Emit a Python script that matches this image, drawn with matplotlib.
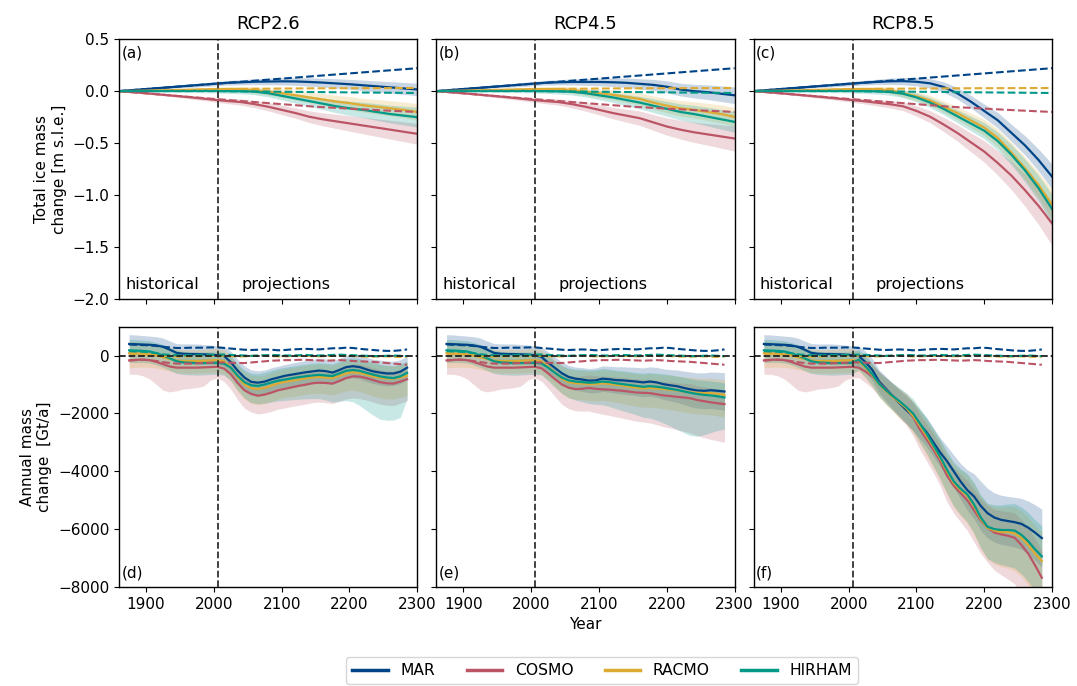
import numpy as np
import matplotlib
matplotlib.use("Agg")
import matplotlib.pyplot as plt
from matplotlib.lines import Line2D

# ---------------- general ----------------
models = ["MAR", "COSMO", "RACMO", "HIRHAM"]
colors = ["#004488", "#BB5566", "#DDAA33", "#009988"]
scenarios = ["RCP2.6", "RCP4.5", "RCP8.5"]
labels_top = ["(a)", "(b)", "(c)"]
labels_bot = ["(d)", "(e)", "(f)"]
split_year = 2006

# ---------------- top row: total ice mass change [m s.l.e.] ----------------
years_top_hist = [1860, 1880, 1900, 1920, 1940, 1960, 1980, 2000]
years_top_proj = [2020, 2040, 2060, 2080, 2100, 2120, 2140, 2160, 2180,
                  2200, 2220, 2240, 2260, 2280, 2300]

top_hist_mar = [0.0, 0.01, 0.02, 0.03, 0.04, 0.05, 0.06, 0.07]
top_hist_cosmo = [0.0, -0.01, -0.02, -0.032, -0.044, -0.056, -0.069, -0.083]
top_hist_racmo = [0.0, 0.002, 0.005, 0.007, 0.01, 0.012, 0.015, 0.018]
top_hist_hirham = [0.0, 0.0, 0.001, 0.001, 0.002, 0.002, 0.003, 0.003]
top_hist_sd = [0.0, 0.003, 0.006, 0.009, 0.012, 0.015, 0.018, 0.02]

top26_mar = [0.08, 0.085, 0.09, 0.092, 0.094, 0.093, 0.088, 0.082, 0.074, 0.066, 0.056, 0.046, 0.036, 0.026, 0.016]
top26_cosmo = [-0.095, -0.105, -0.125, -0.15, -0.18, -0.21, -0.245, -0.27, -0.29, -0.31, -0.33, -0.35, -0.37, -0.39, -0.41]
top26_racmo = [0.02, 0.02, 0.01, -0.005, -0.02, -0.04, -0.06, -0.08, -0.1, -0.115, -0.135, -0.15, -0.165, -0.18, -0.2]
top26_hirham = [0.0, -0.001, -0.005, -0.02, -0.045, -0.07, -0.095, -0.12, -0.145, -0.165, -0.18, -0.2, -0.22, -0.235, -0.25]

top45_mar = [0.08, 0.085, 0.088, 0.088, 0.088, 0.085, 0.08, 0.07, 0.06, 0.042, 0.015, 0.0, -0.01, -0.025, -0.04]
top45_cosmo = [-0.095, -0.105, -0.125, -0.15, -0.18, -0.21, -0.235, -0.26, -0.3, -0.34, -0.37, -0.395, -0.415, -0.435, -0.455]
top45_racmo = [0.02, 0.02, 0.01, -0.005, -0.02, -0.035, -0.055, -0.075, -0.11, -0.14, -0.165, -0.18, -0.2, -0.22, -0.247]
top45_hirham = [0.0, -0.002, -0.006, -0.02, -0.04, -0.06, -0.085, -0.11, -0.14, -0.17, -0.2, -0.22, -0.245, -0.27, -0.295]

top85_mar = [0.08, 0.088, 0.094, 0.096, 0.09, 0.075, 0.04, -0.02, -0.1, -0.19, -0.28, -0.4, -0.52, -0.66, -0.82]
top85_cosmo = [-0.095, -0.11, -0.125, -0.145, -0.19, -0.245, -0.32, -0.4, -0.49, -0.58, -0.69, -0.81, -0.95, -1.1, -1.27]
top85_racmo = [0.02, 0.018, 0.01, -0.02, -0.05, -0.09, -0.15, -0.21, -0.28, -0.35, -0.45, -0.59, -0.74, -0.9, -1.09]
top85_hirham = [0.0, -0.002, -0.008, -0.025, -0.06, -0.11, -0.17, -0.24, -0.31, -0.38, -0.48, -0.61, -0.76, -0.93, -1.13]

# half-widths of the shaded ranges
sd26_mar = [0.022, 0.025, 0.028, 0.031, 0.034, 0.037, 0.04, 0.042, 0.045, 0.047, 0.05, 0.052, 0.055, 0.057, 0.06]
sd26_cosmo = [0.025, 0.03, 0.035, 0.04, 0.045, 0.05, 0.056, 0.062, 0.068, 0.074, 0.08, 0.085, 0.09, 0.095, 0.1]
sd26_racmo = [0.022, 0.025, 0.03, 0.035, 0.04, 0.045, 0.05, 0.055, 0.06, 0.063, 0.066, 0.07, 0.073, 0.076, 0.08]
sd26_hirham = [0.022, 0.025, 0.03, 0.035, 0.04, 0.045, 0.05, 0.056, 0.062, 0.068, 0.074, 0.08, 0.085, 0.09, 0.095]
sd45_mar = [0.022, 0.025, 0.029, 0.033, 0.037, 0.041, 0.045, 0.049, 0.053, 0.057, 0.061, 0.065, 0.07, 0.075, 0.08]
sd45_cosmo = [0.025, 0.03, 0.036, 0.042, 0.048, 0.055, 0.062, 0.069, 0.076, 0.083, 0.09, 0.097, 0.104, 0.112, 0.12]
sd45_racmo = [0.022, 0.026, 0.031, 0.036, 0.041, 0.046, 0.052, 0.058, 0.064, 0.069, 0.074, 0.079, 0.083, 0.087, 0.09]
sd45_hirham = [0.022, 0.026, 0.031, 0.036, 0.042, 0.048, 0.054, 0.06, 0.066, 0.072, 0.078, 0.084, 0.09, 0.095, 0.1]
sd85_mar = [0.022, 0.025, 0.03, 0.035, 0.04, 0.045, 0.05, 0.055, 0.06, 0.066, 0.074, 0.082, 0.092, 0.105, 0.12]
sd85_cosmo = [0.025, 0.03, 0.036, 0.042, 0.05, 0.058, 0.068, 0.078, 0.09, 0.103, 0.118, 0.135, 0.155, 0.18, 0.21]
sd85_racmo = [0.022, 0.026, 0.031, 0.036, 0.042, 0.048, 0.055, 0.062, 0.07, 0.078, 0.087, 0.097, 0.108, 0.122, 0.14]
sd85_hirham = [0.022, 0.026, 0.031, 0.036, 0.042, 0.048, 0.055, 0.062, 0.07, 0.078, 0.087, 0.097, 0.108, 0.122, 0.14]

# control runs (dashed)
years_ctrl_top = [1860, 1900, 1950, 2000, 2050, 2100, 2150, 2200, 2250, 2300]
ctrl_top_mar = [0.0, 0.02, 0.045, 0.07, 0.095, 0.12, 0.145, 0.17, 0.195, 0.22]
ctrl_top_cosmo = [0.0, -0.022, -0.048, -0.075, -0.1, -0.125, -0.15, -0.168, -0.185, -0.2]
ctrl_top_racmo = [0.0, 0.005, 0.01, 0.017, 0.022, 0.025, 0.027, 0.028, 0.029, 0.03]
ctrl_top_hirham = [0.0, 0.0, 0.0, 0.0, -0.003, -0.006, -0.009, -0.012, -0.015, -0.018]

# ---------------- bottom row: annual mass change [Gt/a] ----------------
years_bot_hist = [1875, 1885, 1895, 1905, 1915, 1925, 1935, 1945, 1955, 1965, 1975, 1985, 1995, 2005]
years_bot_proj = [2015, 2025, 2035, 2045, 2055, 2065, 2075, 2085, 2095, 2105, 2115, 2125, 2135, 2145,
                  2155, 2165, 2175, 2185, 2195, 2205, 2215, 2225, 2235, 2245, 2255, 2265, 2275, 2285]

bot_hist_mar = [400, 390, 380, 370, 350, 300, 200, 90, 60, 50, 50, 40, 30, 10]
bot_hist_cosmo = [-170, -150, -140, -160, -220, -300, -380, -420, -420, -420, -420, -410, -400, -390]
bot_hist_racmo = [80, 70, 60, 40, 0, -60, -120, -180, -190, -190, -190, -180, -170, -160]
bot_hist_hirham = [180, 170, 160, 140, 80, 0, -100, -200, -240, -250, -260, -260, -260, -250]

bot_hist_mar_lo = [320, 320, 310, 300, 300, 300, 300, 320, 340, 350, 350, 340, 330, 320]
bot_hist_mar_hi = bot_hist_mar_lo
bot_hist_cosmo_lo = [480, 500, 560, 650, 780, 900, 880, 800, 740, 720, 690, 640, 450, 380]
bot_hist_cosmo_hi = [300, 300, 290, 290, 300, 300, 310, 310, 300, 300, 300, 300, 300, 300]
bot_hist_racmo_lo = [500, 480, 460, 450, 440, 430, 420, 420, 420, 420, 420, 420, 420, 420]
bot_hist_racmo_hi = [420, 410, 400, 400, 400, 400, 400, 400, 400, 400, 400, 400, 400, 400]
bot_hist_hirham_lo = [420, 410, 400, 400, 400, 410, 420, 420, 420, 420, 420, 410, 400, 400]
bot_hist_hirham_hi = [380, 380, 370, 370, 370, 380, 380, 380, 380, 380, 380, 380, 380, 380]

bot26_mar = [-20, -230, -520, -760, -910, -940, -900, -820, -760, -700, -660, -620, -580, -550,
             -520, -540, -590, -500, -400, -370, -400, -480, -550, -590, -620, -620, -560, -420]
bot26_cosmo = [-450, -650, -950, -1200, -1330, -1390, -1350, -1280, -1200, -1150, -1100, -1050, -1010, -960,
               -940, -950, -970, -880, -780, -720, -730, -780, -850, -920, -960, -970, -900, -820]
bot26_racmo = [-200, -420, -750, -1000, -1130, -1160, -1120, -1040, -960, -910, -870, -830, -790, -760,
               -740, -760, -780, -700, -620, -580, -600, -660, -720, -770, -800, -800, -760, -700]
bot26_hirham = [-280, -420, -700, -920, -1030, -1050, -1000, -930, -870, -830, -790, -750, -720, -690,
                -670, -690, -710, -620, -530, -500, -530, -600, -660, -720, -760, -780, -720, -600]

bot45_mar = [-50, -250, -430, -610, -740, -800, -830, -870, -860, -800, -820, -850, -860, -880,
             -900, -930, -900, -930, -990, -1030, -1060, -1120, -1170, -1210, -1220, -1200, -1220, -1245]
bot45_cosmo = [-440, -620, -820, -1000, -1110, -1160, -1150, -1120, -1150, -1170, -1180, -1200, -1220, -1250,
               -1280, -1290, -1300, -1340, -1380, -1400, -1430, -1450, -1480, -1540, -1580, -1620, -1650, -1680]
bot45_racmo = [-200, -380, -600, -800, -920, -960, -970, -990, -990, -960, -980, -1010, -1040, -1080,
               -1110, -1140, -1120, -1140, -1160, -1180, -1210, -1240, -1270, -1290, -1300, -1300, -1330, -1360]
bot45_hirham = [-270, -420, -600, -760, -860, -900, -920, -940, -930, -900, -920, -960, -990, -1020,
                -1050, -1080, -1060, -1080, -1110, -1150, -1190, -1240, -1290, -1330, -1360, -1380, -1410, -1450]

bot85_mar = [-20, -230, -500, -900, -1150, -1400, -1650, -1880, -2100, -2380, -2650, -3000, -3350, -3650,
             -4000, -4350, -4650, -4870, -5200, -5450, -5600, -5680, -5720, -5760, -5820, -5950, -6120, -6310]
bot85_cosmo = [-420, -560, -720, -950, -1180, -1400, -1620, -1800, -2120, -2550, -2900, -3250, -3650, -4150,
               -4500, -4750, -5000, -5350, -5700, -5950, -6120, -6180, -6230, -6300, -6550, -6850, -7250, -7680]
bot85_racmo = [-200, -420, -680, -1000, -1230, -1430, -1620, -1820, -2080, -2420, -2780, -3150, -3550, -4000,
               -4400, -4650, -4850, -5200, -5650, -5950, -6050, -6100, -6100, -6150, -6300, -6550, -6850, -7100]
bot85_hirham = [-150, -380, -650, -980, -1200, -1400, -1580, -1780, -2000, -2350, -2700, -3100, -3500, -3950,
                -4350, -4600, -4800, -5150, -5600, -5920, -6000, -6030, -6030, -6050, -6200, -6420, -6700, -6940]

# shaded-range offsets below (lo) and above (hi) the lines
bot26_mar_lo = [350, 370, 390, 400, 410, 410, 400, 400, 390, 390, 400, 400, 410, 410,
                420, 420, 410, 400, 400, 400, 410, 420, 420, 430, 430, 420, 410, 400]
bot26_mar_hi = bot26_mar_lo
bot26_cosmo_lo = [450, 520, 580, 620, 630, 630, 640, 650, 650, 660, 660, 670, 670, 670,
                  670, 680, 690, 700, 720, 740, 760, 760, 760, 760, 760, 760, 750, 740]
bot26_cosmo_hi = [350, 380, 400, 420, 430, 430, 430, 430, 430, 430, 430, 430, 430, 430,
                  430, 430, 430, 430, 430, 430, 430, 430, 430, 430, 430, 430, 430, 430]
bot26_racmo_lo = [450, 480, 500, 520, 530, 540, 540, 540, 540, 540, 550, 550, 550, 560,
                  560, 570, 580, 590, 600, 620, 640, 660, 680, 700, 700, 700, 690, 680]
bot26_racmo_hi = [400, 420, 430, 440, 450, 450, 450, 450, 450, 450, 450, 450, 450, 450,
                  450, 450, 450, 450, 450, 450, 450, 450, 450, 450, 450, 450, 450, 450]
bot26_hirham_lo = [400, 450, 500, 550, 600, 620, 650, 680, 700, 720, 740, 760, 780, 800,
                   820, 850, 900, 960, 1030, 1100, 1200, 1300, 1400, 1480, 1480, 1450, 1420, 900]
bot26_hirham_hi = [380, 400, 410, 420, 420, 420, 420, 420, 420, 420, 420, 420, 420, 420,
                   420, 420, 420, 420, 420, 420, 420, 420, 420, 420, 420, 420, 420, 420]

bot45_mar_lo = [350, 370, 380, 390, 400, 400, 410, 420, 430, 440, 450, 460, 470, 480,
                490, 500, 510, 520, 530, 540, 560, 580, 600, 610, 620, 630, 640, 650]
bot45_mar_hi = bot45_mar_lo
bot45_cosmo_lo = [450, 520, 600, 680, 730, 750, 770, 800, 830, 860, 890, 920, 950, 970,
                  990, 1010, 1030, 1050, 1080, 1110, 1140, 1170, 1200, 1230, 1260, 1280, 1300, 1320]
bot45_cosmo_hi = [350, 380, 400, 420, 430, 440, 450, 450, 450, 450, 460, 460, 460, 470,
                  470, 470, 480, 480, 480, 490, 490, 490, 500, 500, 500, 500, 500, 500]
bot45_racmo_lo = [450, 480, 500, 520, 540, 550, 560, 570, 580, 590, 600, 610, 620, 630,
                  640, 650, 660, 670, 680, 690, 700, 710, 720, 730, 740, 750, 760, 770]
bot45_racmo_hi = [400, 420, 430, 440, 450, 450, 450, 460, 460, 460, 470, 470, 470, 480,
                  480, 480, 490, 490, 490, 500, 500, 500, 510, 510, 510, 520, 520, 520]
bot45_hirham_lo = [400, 450, 500, 550, 600, 640, 680, 720, 760, 800, 840, 880, 920, 960,
                   1000, 1050, 1100, 1160, 1220, 1290, 1360, 1430, 1480, 1460, 1380, 1280, 1180, 1100]
bot45_hirham_hi = [380, 400, 410, 420, 430, 430, 440, 440, 440, 450, 450, 450, 460, 460,
                   460, 470, 470, 470, 480, 480, 480, 490, 490, 490, 500, 500, 500, 500]

bot85_mar_lo = [350, 370, 390, 400, 420, 440, 460, 480, 500, 500, 500, 500, 500, 520,
                560, 620, 700, 780, 850, 860, 850, 850, 850, 860, 880, 920, 960, 1000]
bot85_mar_hi = bot85_mar_lo
bot85_cosmo_lo = [350, 380, 420, 450, 480, 500, 550, 600, 650, 700, 750, 800, 850, 900,
                  950, 1000, 1050, 1100, 1150, 1200, 1300, 1400, 1500, 1600, 1700, 1800, 1900, 2000]
bot85_cosmo_hi = [350, 370, 390, 400, 420, 440, 460, 480, 500, 520, 540, 560, 580, 600,
                  620, 650, 680, 710, 740, 770, 800, 820, 840, 860, 880, 900, 920, 940]
bot85_racmo_lo = [350, 380, 410, 440, 470, 500, 530, 560, 600, 640, 680, 720, 760, 800,
                  850, 900, 950, 1000, 1050, 1100, 1150, 1200, 1250, 1300, 1350, 1400, 1450, 1500]
bot85_racmo_hi = [350, 370, 390, 410, 430, 450, 470, 490, 510, 530, 550, 570, 600, 630,
                  660, 690, 720, 750, 780, 810, 840, 870, 900, 920, 940, 960, 980, 1000]
bot85_hirham_lo = [350, 380, 410, 440, 470, 500, 530, 560, 600, 640, 680, 720, 760, 800,
                   850, 900, 950, 1000, 1050, 1100, 1150, 1200, 1250, 1300, 1350, 1400, 1450, 1500]
bot85_hirham_hi = [350, 370, 390, 410, 430, 450, 470, 490, 510, 530, 550, 570, 600, 630,
                   660, 690, 720, 750, 780, 810, 840, 870, 900, 930, 960, 990, 1020, 1050]

# control runs (dashed), full period 1875-2285
ctrl_bot_mar = [380, 370, 360, 350, 330, 300, 280, 260, 260, 270, 270, 270, 280, 280,
                260, 240, 220, 200, 190, 200, 210, 200, 180, 190, 210, 220, 230, 220,
                210, 230, 250, 250, 270, 260, 230, 210, 190, 170, 160, 160, 180, 210]
ctrl_bot_cosmo = [-170, -160, -150, -160, -190, -230, -260, -280, -280, -280, -270, -260, -250, -240,
                  -240, -250, -260, -260, -240, -220, -200, -180, -170, -160, -160, -150, -150, -160,
                  -170, -180, -170, -160, -170, -190, -200, -210, -220, -240, -260, -280, -300, -320]
ctrl_bot_racmo = [60, 50, 40, 30, 10, -10, -30, -40, -40, -30, -30, -20, -20, -10,
                  -10, -20, -30, -30, -20, -10, -10, -20, -30, -30, -20, -10, -10, -20,
                  -30, -20, -10, 0, -10, -20, -30, -40, -40, -30, -30, -40, -50, -40]
ctrl_bot_hirham = [150, 140, 130, 110, 80, 40, 20, 10, 10, 10, 20, 20, 20, 30,
                   30, 20, 10, 0, -10, 0, 10, 20, 10, 0, 0, 10, 20, 10,
                   0, 10, 20, 30, 20, 10, 0, -10, -20, -20, -10, 0, -10, -20]

# ---------------- assemble ----------------
top_hist = [top_hist_mar, top_hist_cosmo, top_hist_racmo, top_hist_hirham]
top_proj = [[top26_mar, top26_cosmo, top26_racmo, top26_hirham],
            [top45_mar, top45_cosmo, top45_racmo, top45_hirham],
            [top85_mar, top85_cosmo, top85_racmo, top85_hirham]]
top_sd = [[sd26_mar, sd26_cosmo, sd26_racmo, sd26_hirham],
          [sd45_mar, sd45_cosmo, sd45_racmo, sd45_hirham],
          [sd85_mar, sd85_cosmo, sd85_racmo, sd85_hirham]]
ctrl_top = [ctrl_top_mar, ctrl_top_cosmo, ctrl_top_racmo, ctrl_top_hirham]

bot_hist = [bot_hist_mar, bot_hist_cosmo, bot_hist_racmo, bot_hist_hirham]
bot_hist_lo = [bot_hist_mar_lo, bot_hist_cosmo_lo, bot_hist_racmo_lo, bot_hist_hirham_lo]
bot_hist_hi = [bot_hist_mar_hi, bot_hist_cosmo_hi, bot_hist_racmo_hi, bot_hist_hirham_hi]
bot_proj = [[bot26_mar, bot26_cosmo, bot26_racmo, bot26_hirham],
            [bot45_mar, bot45_cosmo, bot45_racmo, bot45_hirham],
            [bot85_mar, bot85_cosmo, bot85_racmo, bot85_hirham]]
bot_lo = [[bot26_mar_lo, bot26_cosmo_lo, bot26_racmo_lo, bot26_hirham_lo],
          [bot45_mar_lo, bot45_cosmo_lo, bot45_racmo_lo, bot45_hirham_lo],
          [bot85_mar_lo, bot85_cosmo_lo, bot85_racmo_lo, bot85_hirham_lo]]
bot_hi = [[bot26_mar_hi, bot26_cosmo_hi, bot26_racmo_hi, bot26_hirham_hi],
          [bot45_mar_hi, bot45_cosmo_hi, bot45_racmo_hi, bot45_hirham_hi],
          [bot85_mar_hi, bot85_cosmo_hi, bot85_racmo_hi, bot85_hirham_hi]]
ctrl_bot = [ctrl_bot_mar, ctrl_bot_cosmo, ctrl_bot_racmo, ctrl_bot_hirham]

yt = np.array(years_top_hist + years_top_proj)
yb = np.array(years_bot_hist + years_bot_proj)

plt.rcParams['font.family'] = ['DejaVu Sans']
plt.rcParams['font.size'] = 11

fig, axes = plt.subplots(2, 3, figsize=(10.77, 6.86), dpi=100, sharex=True)
fig.subplots_adjust(left=0.1105, right=0.9768, top=0.9431, bottom=0.1443,
                    wspace=0.064, hspace=0.104)

for j in range(3):
    ax = axes[0, j]
    for m in range(4):
        v = np.array(top_hist[m] + top_proj[j][m])
        s = np.array(top_hist_sd + top_sd[j][m])
        ax.fill_between(yt, v - s, v + s, color=colors[m], alpha=0.22, lw=0)
    for m in range(4):
        v = np.array(top_hist[m] + top_proj[j][m])
        ax.plot(yt, v, color=colors[m], lw=1.6)
    for m in range(4):
        ax.plot(years_ctrl_top, ctrl_top[m], color=colors[m], lw=1.5, ls='--')
    ax.axvline(split_year, color='#333333', lw=1.3, ls='--')
    ax.set_ylim(-2.0, 0.5)
    ax.set_yticks([0.5, 0.0, -0.5, -1.0, -1.5, -2.0])
    ax.set_title(scenarios[j], fontsize=13, pad=7)
    ax.text(0.008, 0.975, labels_top[j], transform=ax.transAxes, ha='left', va='top', fontsize=11)
    ax.text(1869, -1.9, 'historical', ha='left', va='baseline', fontsize=11.6)
    ax.text(2040, -1.9, 'projections', ha='left', va='baseline', fontsize=11.6)
    if j > 0:
        ax.tick_params(labelleft=False)

for j in range(3):
    ax = axes[1, j]
    for m in range(4):
        v = np.array(bot_hist[m] + bot_proj[j][m])
        lo = np.array(bot_hist_lo[m] + bot_lo[j][m])
        hi = np.array(bot_hist_hi[m] + bot_hi[j][m])
        ax.fill_between(yb, v - lo, v + hi, color=colors[m], alpha=0.22, lw=0)
    for m in range(4):
        v = np.array(bot_hist[m] + bot_proj[j][m])
        ax.plot(yb, v, color=colors[m], lw=1.6)
    for m in range(4):
        ax.plot(yb, ctrl_bot[m], color=colors[m], lw=1.5, ls='--')
    ax.axhline(0, color='#222222', lw=1.3, ls='--')
    ax.axvline(split_year, color='#333333', lw=1.3, ls='--')
    ax.set_ylim(-8000, 1000)
    ax.set_yticks([0, -2000, -4000, -6000, -8000])
    ax.text(0.008, 0.025, labels_bot[j], transform=ax.transAxes, ha='left', va='bottom', fontsize=11)
    if j > 0:
        ax.tick_params(labelleft=False)

for ax in axes.flat:
    ax.set_xlim(1860, 2300)
    ax.set_xticks([1900, 2000, 2100, 2200, 2300])
    for sp in ax.spines.values():
        sp.set_linewidth(1.0)
    ax.tick_params(labelsize=11)

axes[0, 0].set_ylabel('Total ice mass\nchange [m s.l.e.]', fontsize=11)
axes[1, 0].set_ylabel('Annual mass\nchange  [Gt/a]', fontsize=11)
axes[1, 1].set_xlabel('Year', fontsize=11)

handles = [Line2D([0], [0], color=c, lw=2.5) for c in colors]
fig.legend(handles, models, loc='upper center', bbox_to_anchor=(0.559, 0.054),
           ncol=4, fontsize=11.2, handlelength=2.3, handletextpad=0.8,
           columnspacing=2.0, frameon=True)

fig.savefig('out.png', dpi=100)
